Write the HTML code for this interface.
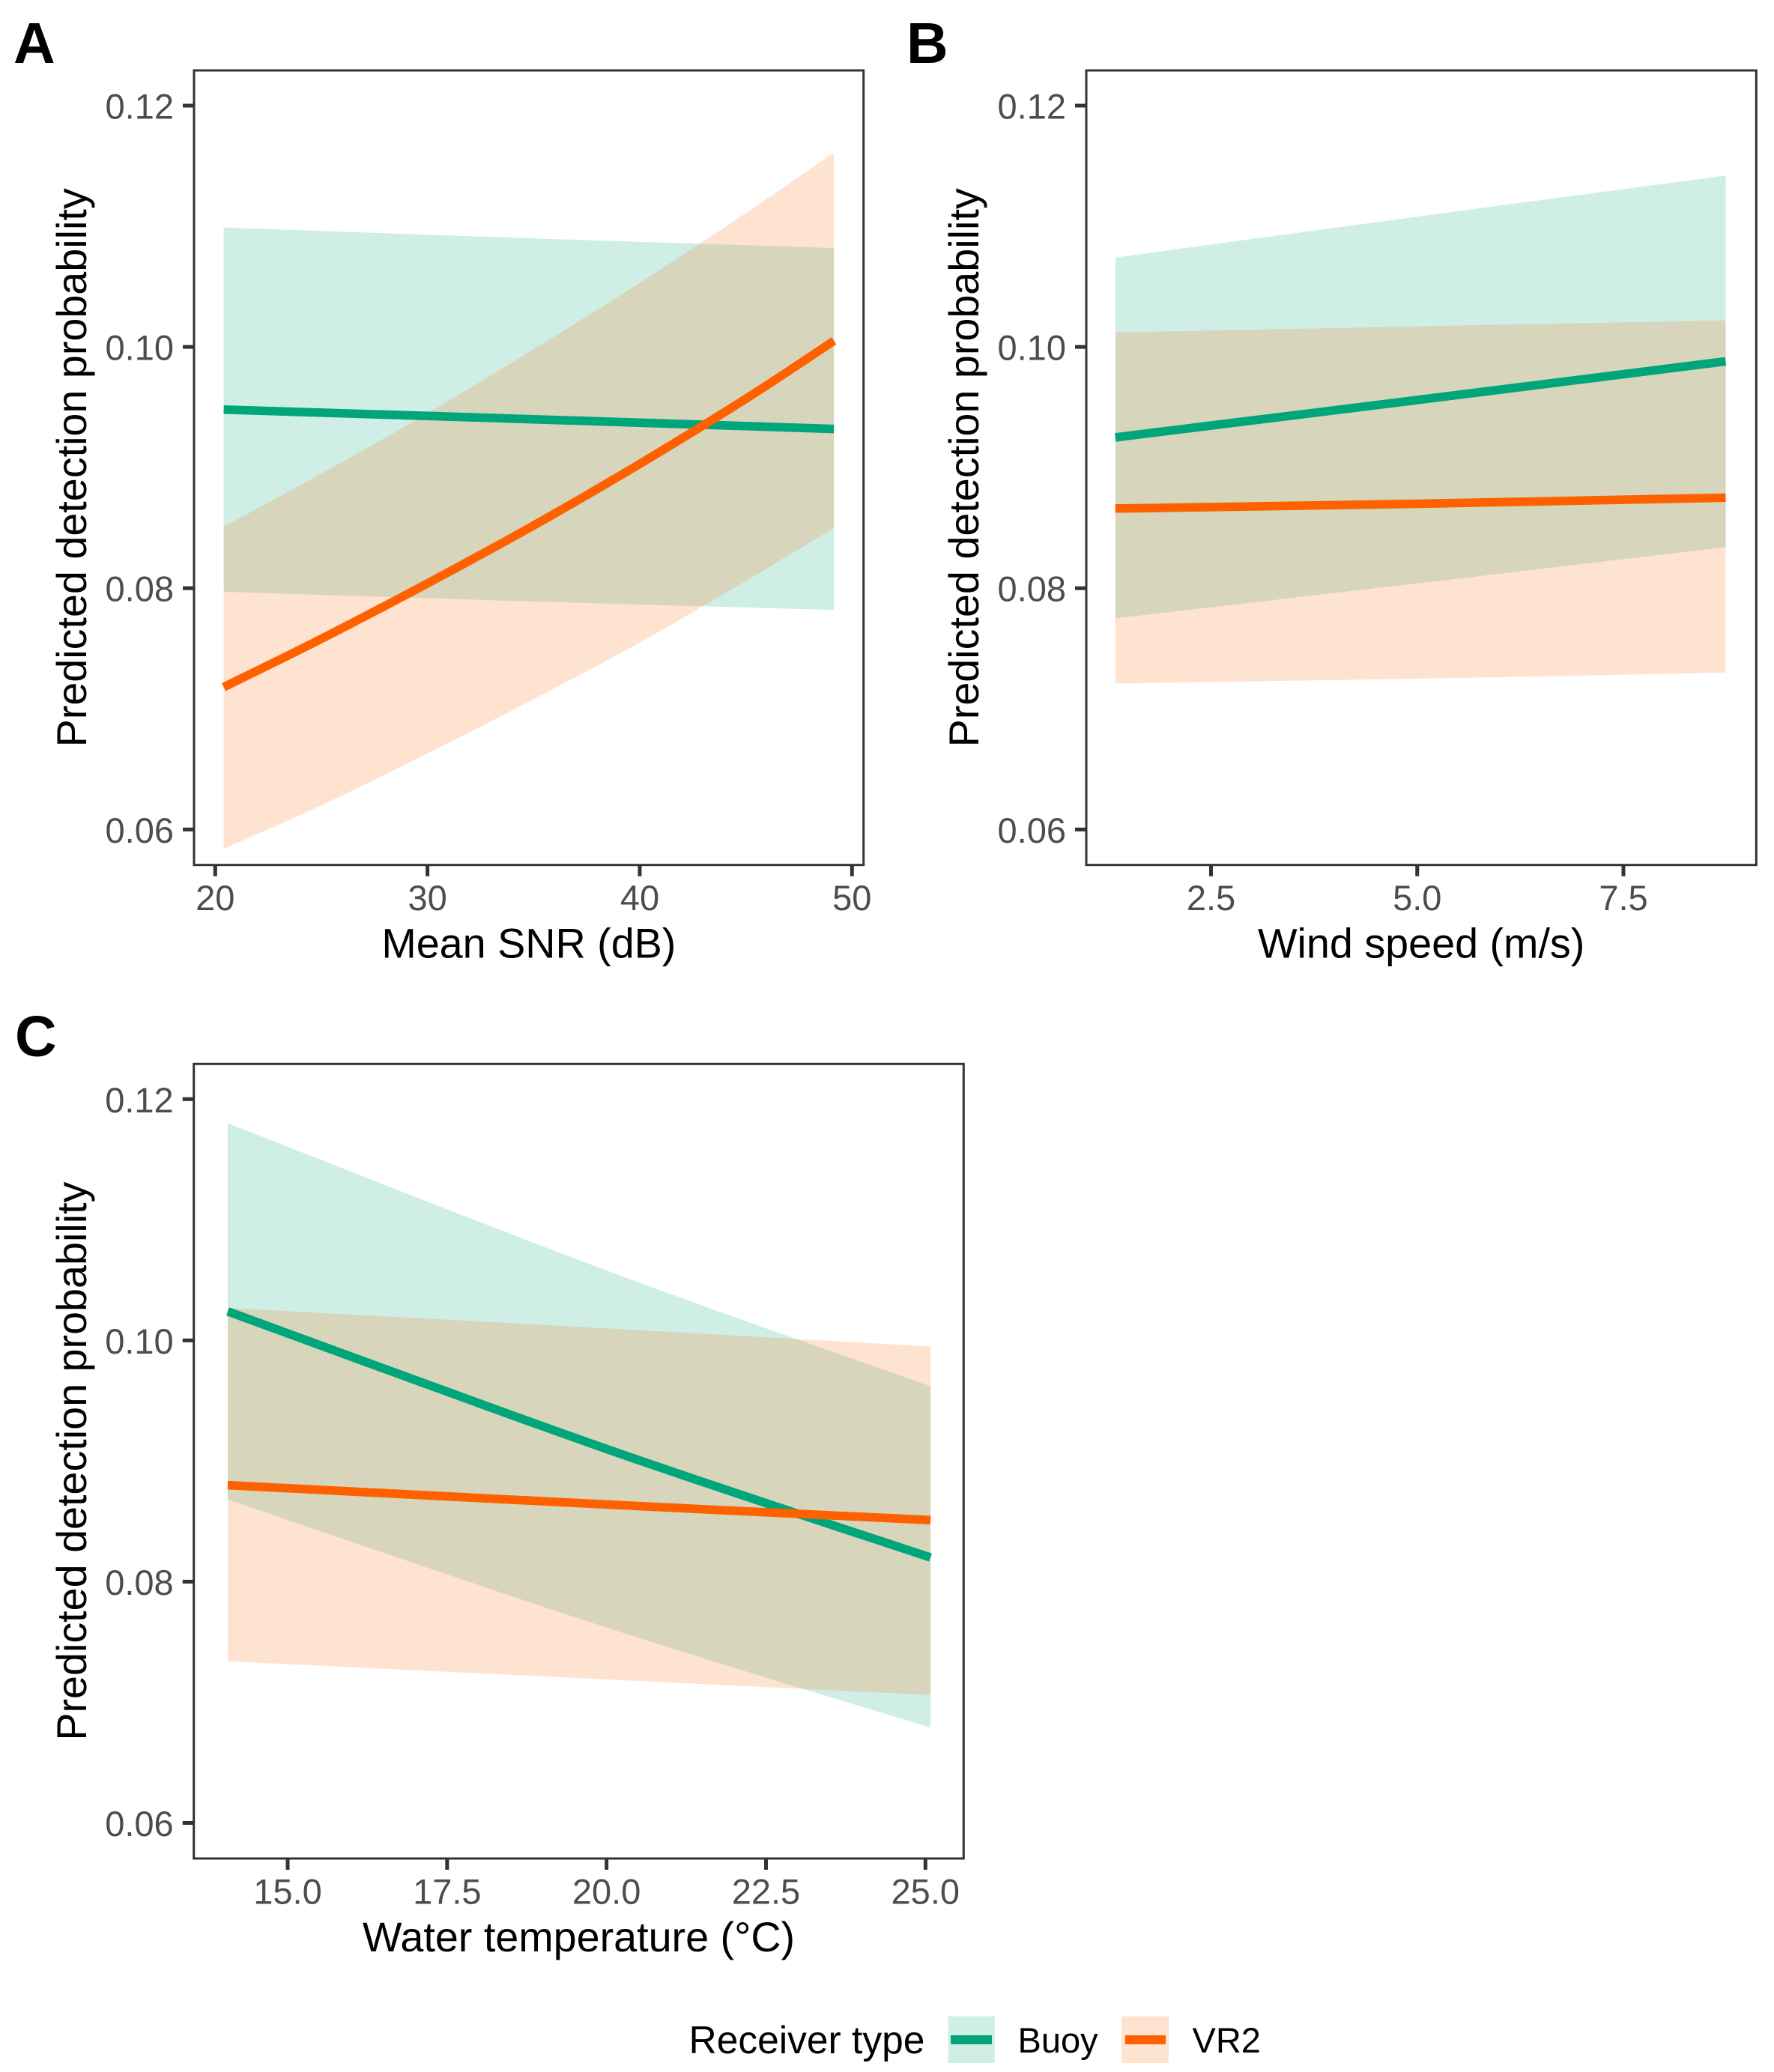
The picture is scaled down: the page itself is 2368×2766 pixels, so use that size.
<!DOCTYPE html>
<html lang="en">
<head>
<meta charset="utf-8">
<title>Predicted detection probability by receiver type</title>
<style>
  html, body { margin: 0; padding: 0; background: #ffffff; }
  body { width: 2368px; height: 2766px; overflow: hidden; }
  svg { display: block; font-family: "Liberation Sans", Arial, sans-serif; }
</style>
</head>
<body>
<svg id="figure" xmlns="http://www.w3.org/2000/svg" width="2368" height="2766" viewBox="0 0 2368 2766">
  <rect x="0" y="0" width="2368" height="2766" fill="#ffffff"/>
  <g id="panels"></g>
  <g id="legend">
    <text x="919.5" y="2741" font-size="51.5" fill="#000000">Receiver type</text>
    <g>
      <rect x="1265.7" y="2691.7" width="62" height="62.3" fill="#00a67a" fill-opacity="0.19"/>
      <rect x="1269" y="2717" width="55" height="12" fill="#00a57a"/>
      <text x="1358.5" y="2740" font-size="47" fill="#000000">Buoy</text>
    </g>
    <g>
      <rect x="1497" y="2691.7" width="63" height="62.3" fill="#ff6600" fill-opacity="0.18"/>
      <rect x="1501.7" y="2717" width="54.3" height="12" fill="#ff6000"/>
      <text x="1591.5" y="2740" font-size="47" fill="#000000">VR2</text>
    </g>
  </g>
</svg>
<script>
// Shared y axis
const yTicks = [0.06, 0.08, 0.10, 0.12];
const yTickLabels = ['0.06', '0.08', '0.10', '0.12'];

// Panel A: Mean SNR (dB)
const snrTicks = [20, 30, 40, 50];
const snrTickLabels = ['20', '30', '40', '50'];
const snrBuoyValues = [20.4, 35, 49.15];
const snrBuoyFit = [0.0948, 0.0940, 0.0932];
const snrBuoyLow = [0.0797, 0.0789, 0.0782];
const snrBuoyHigh = [0.1099, 0.1090, 0.1082];
const snrVr2Values = [20.4, 25, 30, 35, 40, 45, 49.15];
const snrVr2Fit = [0.0718, 0.0758, 0.0804, 0.0852, 0.0903, 0.0957, 0.1005];
const snrVr2Low = [0.0584, 0.0620, 0.0663, 0.0708, 0.0755, 0.0806, 0.0850];
const snrVr2High = [0.0851, 0.0895, 0.0945, 0.0998, 0.1053, 0.1111, 0.1161];

// Panel B: Wind speed (m/s)
const windTicks = [2.5, 5.0, 7.5];
const windTickLabels = ['2.5', '5.0', '7.5'];
const windValues = [1.34, 5.0, 8.74];
const windBuoyFit = [0.0925, 0.0956, 0.0988];
const windBuoyLow = [0.0775, 0.0804, 0.0834];
const windBuoyHigh = [0.1074, 0.1108, 0.1142];
const windVr2Fit = [0.0866, 0.0870, 0.0875];
const windVr2Low = [0.0721, 0.0725, 0.0730];
const windVr2High = [0.1012, 0.1017, 0.1022];

// Panel C: Water temperature (°C)
const tempTicks = [15.0, 17.5, 20.0, 22.5, 25.0];
const tempTickLabels = ['15.0', '17.5', '20.0', '22.5', '25.0'];
const tempValues = [14.06, 20.0, 25.08];
const tempBuoyFit = [0.1024, 0.0910, 0.0820];
const tempBuoyLow = [0.0868, 0.0762, 0.0679];
const tempBuoyHigh = [0.1180, 0.1058, 0.0962];
const tempVr2Fit = [0.0880, 0.0864, 0.0851];
const tempVr2Low = [0.0734, 0.0719, 0.0706];
const tempVr2High = [0.1027, 0.1010, 0.0995];

const NS = 'http://www.w3.org/2000/svg';
const TEAL = '#00a57a';
const ORANGE = '#ff6000';

function make(parent, tag) {
  const el = document.createElementNS(NS, tag);
  parent.appendChild(el);
  return el;
}

function linearScale(d0, d1, r0, r1) {
  return function (v) { return r0 + (v - d0) * (r1 - r0) / (d1 - d0); };
}

// Smooth cubic segments passing through every projected data point
function smoothSegments(pts) {
  let d = '';
  for (let i = 0; i < pts.length - 1; i++) {
    const p0 = pts[Math.max(i - 1, 0)];
    const p1 = pts[i];
    const p2 = pts[i + 1];
    const p3 = pts[Math.min(i + 2, pts.length - 1)];
    const c1x = p1[0] + (p2[0] - p0[0]) / 6;
    const c1y = p1[1] + (p2[1] - p0[1]) / 6;
    const c2x = p2[0] - (p3[0] - p1[0]) / 6;
    const c2y = p2[1] - (p3[1] - p1[1]) / 6;
    d += ' C' + c1x.toFixed(1) + ',' + c1y.toFixed(1) + ' ' + c2x.toFixed(1) + ',' + c2y.toFixed(1) + ' ' + p2[0].toFixed(1) + ',' + p2[1].toFixed(1);
  }
  return d;
}

function project(xs, ys, sx, sy) {
  return xs.map(function (x, i) { return [sx(x), sy(ys[i])]; });
}

function drawRibbon(g, name, fill, opacity, xs, low, high, sx, sy) {
  const top = project(xs, high, sx, sy);
  const bottom = project(xs, low, sx, sy).reverse();
  const el = make(g, 'path');
  
  
  const d = 'M' + top[0][0].toFixed(1) + ',' + top[0][1].toFixed(1) + smoothSegments(top) +
    ' L' + bottom[0][0].toFixed(1) + ',' + bottom[0][1].toFixed(1) + smoothSegments(bottom) + ' Z';
  el.setAttribute('d', d);
  el.setAttribute('fill', fill);
  el.setAttribute('fill-opacity', opacity);
}

function drawLine(g, name, stroke, xs, ys, sx, sy) {
  const pts = project(xs, ys, sx, sy);
  const el = make(g, 'path');
  
  
  el.setAttribute('d', 'M' + pts[0][0].toFixed(1) + ',' + pts[0][1].toFixed(1) + smoothSegments(pts));
  el.setAttribute('fill', 'none');
  el.setAttribute('stroke', stroke);
  el.setAttribute('stroke-width', '11.5');
  el.setAttribute('stroke-linejoin', 'round');
}

function drawPanel(p) {
  const root = document.getElementById('panels');
  const g = make(root, 'g');
  
  

  const sx = linearScale(p.xd[0], p.xd[1], p.xr[0], p.xr[1]);
  const sy = linearScale(0.06, 0.12, p.y06, p.y12);

  const tag = make(g, 'text');
  
  
  tag.setAttribute('x', p.tagX);
  tag.setAttribute('y', p.tagY);
  tag.setAttribute('font-size', '77');
  tag.setAttribute('font-weight', '700');
  tag.setAttribute('fill', '#000000');
  tag.textContent = p.tag;

  drawRibbon(g, 'ribbon-buoy', '#00a67a', '0.19', p.buoyXs, p.buoyLow, p.buoyHigh, sx, sy);
  drawRibbon(g, 'ribbon-vr2', '#ff6600', '0.18', p.vr2Xs, p.vr2Low, p.vr2High, sx, sy);
  drawLine(g, 'line-buoy', TEAL, p.buoyXs, p.buoyFit, sx, sy);
  drawLine(g, 'line-vr2', ORANGE, p.vr2Xs, p.vr2Fit, sx, sy);

  const border = make(g, 'rect');
  
  
  border.setAttribute('x', p.left);
  border.setAttribute('y', p.top);
  border.setAttribute('width', p.right - p.left);
  border.setAttribute('height', p.bottom - p.top);
  border.setAttribute('fill', 'none');
  border.setAttribute('stroke', '#333333');
  border.setAttribute('stroke-width', '3');

  yTicks.forEach(function (t, i) {
    const y = sy(t);
    const tick = make(g, 'line');
    
    
    tick.setAttribute('x1', p.left - 15);
    tick.setAttribute('x2', p.left);
    tick.setAttribute('y1', y);
    tick.setAttribute('y2', y);
    tick.setAttribute('stroke', '#333333');
    tick.setAttribute('stroke-width', '5');
    const label = make(g, 'text');
    
    
    label.setAttribute('x', p.left - 27);
    label.setAttribute('y', y + 17.5);
    label.setAttribute('text-anchor', 'end');
    label.setAttribute('font-size', '47');
    label.setAttribute('fill', '#4d4d4d');
    label.textContent = yTickLabels[i];
  });

  p.ticks.forEach(function (t, i) {
    const x = sx(t);
    const tick = make(g, 'line');
    
    
    tick.setAttribute('x1', x);
    tick.setAttribute('x2', x);
    tick.setAttribute('y1', p.bottom);
    tick.setAttribute('y2', p.bottom + 15);
    tick.setAttribute('stroke', '#333333');
    tick.setAttribute('stroke-width', '5');
    const label = make(g, 'text');
    
    
    label.setAttribute('x', x);
    label.setAttribute('y', p.bottom + 60.3);
    label.setAttribute('text-anchor', 'middle');
    label.setAttribute('font-size', '47');
    label.setAttribute('fill', '#4d4d4d');
    label.textContent = p.tickLabels[i];
  });

  const xTitle = make(g, 'text');
  
  
  xTitle.setAttribute('x', (p.left + p.right) / 2);
  xTitle.setAttribute('y', p.bottom + 124);
  xTitle.setAttribute('text-anchor', 'middle');
  xTitle.setAttribute('font-size', '55.7');
  xTitle.setAttribute('fill', '#000000');
  xTitle.textContent = p.xTitle;

  const yTitle = make(g, 'text');
  
  
  const cy = (p.top + p.bottom) / 2;
  yTitle.setAttribute('transform', 'translate(' + p.yTitleX + ',' + cy + ') rotate(-90)');
  yTitle.setAttribute('text-anchor', 'middle');
  yTitle.setAttribute('font-size', '55.7');
  yTitle.setAttribute('fill', '#000000');
  yTitle.textContent = 'Predicted detection probability';
}

drawPanel({
  tag: 'A', tagX: 18, tagY: 84, left: 259, right: 1152.7, top: 94, bottom: 1154.7,
  y06: 1107.3, y12: 141, xd: [20, 50], xr: [287.3, 1137.3], yTitleX: 115,
  ticks: snrTicks, tickLabels: snrTickLabels, xTitle: 'Mean SNR (dB)',
  buoyXs: snrBuoyValues, vr2Xs: snrVr2Values,
  buoyFit: snrBuoyFit, buoyLow: snrBuoyLow, buoyHigh: snrBuoyHigh,
  vr2Fit: snrVr2Fit, vr2Low: snrVr2Low, vr2High: snrVr2High
});
drawPanel({
  tag: 'B', tagX: 1210, tagY: 84, left: 1450, right: 2344.3, top: 94, bottom: 1154.7,
  y06: 1107.3, y12: 141, xd: [2.5, 7.5], xr: [1616.5, 2167], yTitleX: 1306,
  ticks: windTicks, tickLabels: windTickLabels, xTitle: 'Wind speed (m/s)',
  buoyXs: windValues, vr2Xs: windValues,
  buoyFit: windBuoyFit, buoyLow: windBuoyLow, buoyHigh: windBuoyHigh,
  vr2Fit: windVr2Fit, vr2Low: windVr2Low, vr2High: windVr2High
});
drawPanel({
  tag: 'C', tagX: 20, tagY: 1410, left: 258.7, right: 1286.3, top: 1420.3, bottom: 2481,
  y06: 2433.5, y12: 1467.3, xd: [15, 25], xr: [384, 1235.3], yTitleX: 115,
  ticks: tempTicks, tickLabels: tempTickLabels, xTitle: 'Water temperature (°C)',
  buoyXs: tempValues, vr2Xs: tempValues,
  buoyFit: tempBuoyFit, buoyLow: tempBuoyLow, buoyHigh: tempBuoyHigh,
  vr2Fit: tempVr2Fit, vr2Low: tempVr2Low, vr2High: tempVr2High
});
</script>
</body>
</html>
